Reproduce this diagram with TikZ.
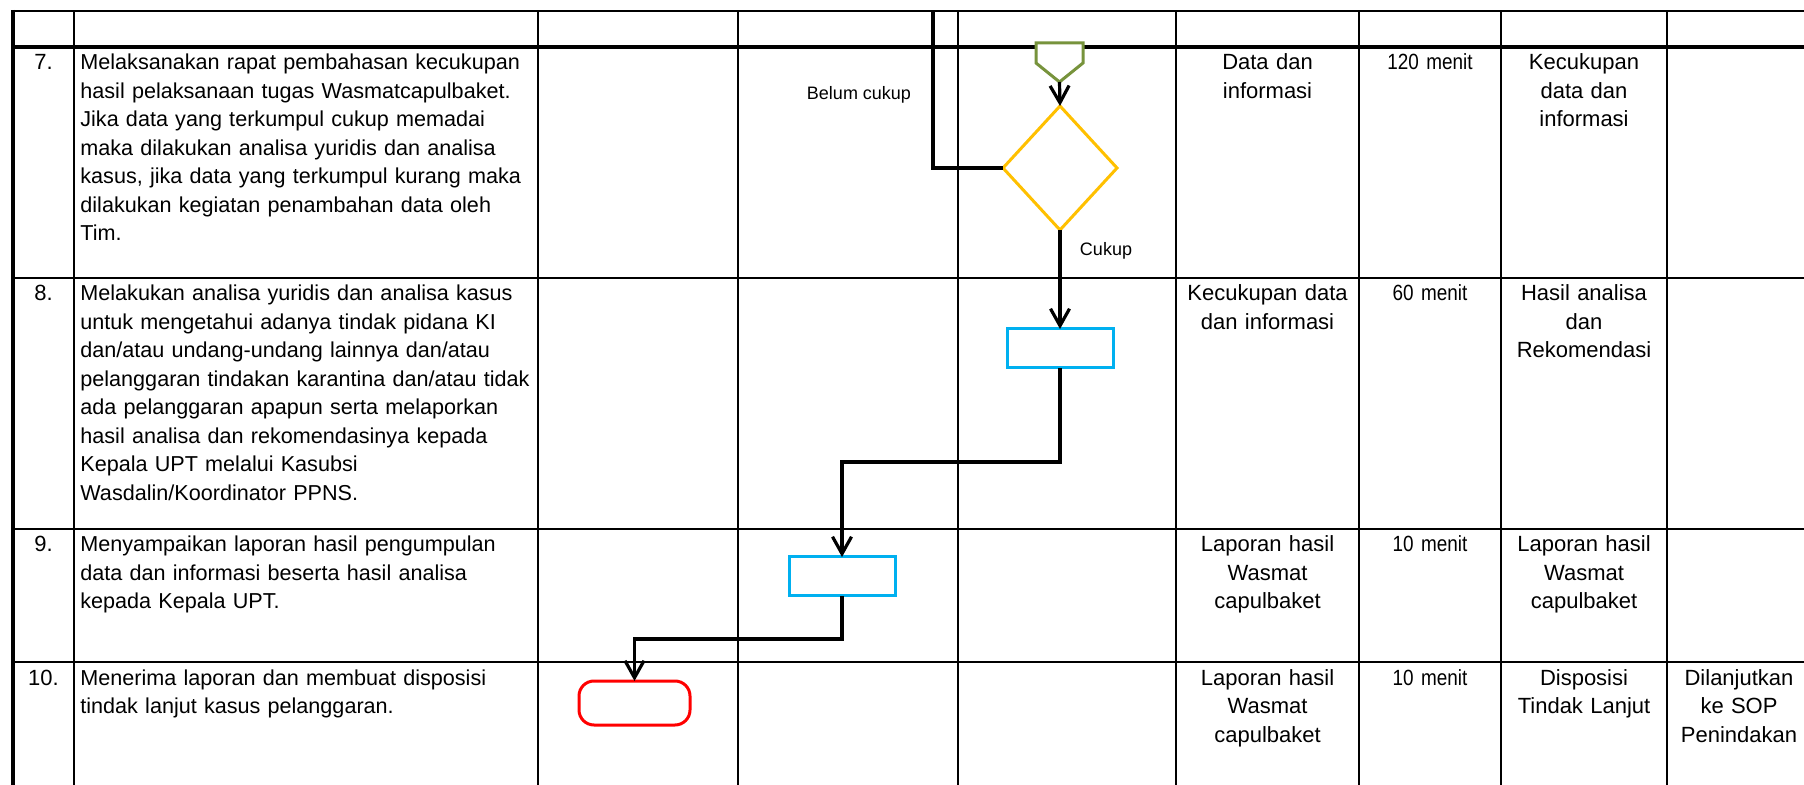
\documentclass[tikz,border=0pt]{standalone}
\usepackage{fontspec}
\setmainfont{Liberation Sans}
\newfontfamily\narrowsans{Liberation Sans}[FakeStretch=0.86]
\usetikzlibrary{shapes.geometric,arrows.meta}

\begin{document}
\begin{tikzpicture}[x=0.5pt,y=-0.5pt,
  grid/.style={black, line width=1pt},
  gridthick/.style={black, line width=1.7pt},
  link/.style={black, line width=1.6pt},
  flow/.style={link, -{Straight Barb[length=8.5pt,width=9.5pt]}},
  decbox/.style={diamond, draw=decyellow, fill=white, line width=1.5pt, minimum width=57pt, minimum height=62pt, inner sep=0pt, outer sep=0pt},
  procbox/.style={rectangle, draw=procblue, fill=white, line width=1.5pt, minimum width=53pt, minimum height=19.5pt, inner sep=0pt, outer sep=0pt},
  endbox/.style={rectangle, rounded corners=7.5pt, draw=endred, fill=white, line width=1.5pt, minimum width=55.5pt, minimum height=22pt, inner sep=0pt, outer sep=0pt},
  desc/.style={anchor=base west, text width=232pt, align=left, inner sep=0pt, font=\fontsize{10.8}{14.25}\selectfont},
  cell/.style={anchor=base, text width=85pt, align=center, inner sep=0pt, font=\fontsize{11}{14.25}\selectfont},
  timecell/.style={cell, font=\narrowsans\fontsize{11}{14.25}\selectfont},
  num/.style={anchor=base, inner sep=0pt, font=\fontsize{11}{14.25}\selectfont},
  note/.style={inner sep=0pt, font=\fontsize{9}{11}\selectfont}]
  \definecolor{okgreen}{RGB}{119,147,60}
  \definecolor{decyellow}{RGB}{255,192,0}
  \definecolor{procblue}{RGB}{0,176,240}
  \definecolor{endred}{RGB}{255,0,0}
  \useasboundingbox (0,0) rectangle (1804,785);

  \foreach \cx in {74,538,738,958,1176,1359,1501,1667}
    \draw[grid] (\cx,11) -- (\cx,785);
  \draw[grid] (13,11) -- (1804,11);
  \draw[gridthick] (13,47) -- (1804,47);
  \foreach \ry in {278,529,662}
    \draw[grid] (13,\ry) -- (1804,\ry);
  \draw[gridthick] (13,10) -- (13,785);

  \node[num] (n7) at (43.5,70) {7.};
  \node[num] (n8) at (43.5,301) {8.};
  \node[num] (n9) at (43.5,552) {9.};
  \node[num] (n10) at (43.5,685) {10.};

  \node[desc] (d7) at (80,70) {Melaksanakan rapat pembahasan kecukupan\\hasil pelaksanaan tugas Wasmatcapulbaket.\\Jika data yang terkumpul cukup memadai\\maka dilakukan analisa yuridis dan analisa\\kasus, jika data yang terkumpul kurang maka\\dilakukan kegiatan penambahan data oleh\\Tim.};
  \node[desc] (d8) at (80,301) {Melakukan analisa yuridis dan analisa kasus\\untuk mengetahui adanya tindak pidana KI\\dan/atau undang-undang lainnya dan/atau\\pelanggaran tindakan karantina dan/atau tidak\\ada pelanggaran apapun serta melaporkan\\hasil analisa dan rekomendasinya kepada\\Kepala UPT melalui Kasubsi\\Wasdalin/Koordinator PPNS.};
  \node[desc] (d9) at (80,552) {Menyampaikan laporan hasil pengumpulan\\data dan informasi beserta hasil analisa\\kepada Kepala UPT.};
  \node[desc] (d10) at (80,685) {Menerima laporan dan membuat disposisi\\tindak lanjut kasus pelanggaran.};

  \node[cell] (in7) at (1267.5,70) {Data dan\\informasi};
  \node[timecell] (t7) at (1430,70) {120 menit};
  \node[cell] (out7) at (1584,70) {Kecukupan\\data dan\\informasi};
  \node[cell] (in8) at (1267.5,301) {Kecukupan data\\dan informasi};
  \node[timecell] (t8) at (1430,301) {60 menit};
  \node[cell] (out8) at (1584,301) {Hasil analisa\\dan\\Rekomendasi};
  \node[cell] (in9) at (1267.5,552) {Laporan hasil\\Wasmat\\capulbaket};
  \node[timecell] (t9) at (1430,552) {10 menit};
  \node[cell] (out9) at (1584,552) {Laporan hasil\\Wasmat\\capulbaket};
  \node[cell] (in10) at (1267.5,685) {Laporan hasil\\Wasmat\\capulbaket};
  \node[timecell] (t10) at (1430,685) {10 menit};
  \node[cell] (out10) at (1584,685) {Disposisi\\Tindak Lanjut};
  \node[cell] (ket10) at (1739,685) {Dilanjutkan\\ke SOP\\Penindakan};

  \draw[okgreen, fill=white, line width=1.5pt] (1036,43) -- (1083,43) -- (1083,63) -- (1059.5,82) -- (1036,63) -- cycle;
  \coordinate (offpage) at (1059.5,82);
  \coordinate (balik) at (933,11);
  \node[decbox] (cek) at (1060,168) {};
  \node[procbox] (analisa) at (1060,348.5) {};
  \node[procbox] (lapor) at (842,576.5) {};
  \node[endbox] (terima) at (634.5,703) {};

  \draw[flow] (offpage) -- (cek.north);
  \draw[link] (cek.west) -| (balik);
  \draw[flow] (cek.south) -- (analisa.north);
  \draw[flow] (analisa.south) -- ++(0,94) -| (lapor.north);
  \draw[flow] (lapor.south) -- ++(0,43) -| (terima.north);

  \node[note] (belum) at (859,95) {Belum cukup};
  \node[note] (cukup) at (1106,251) {Cukup};
\end{tikzpicture}
\end{document}
